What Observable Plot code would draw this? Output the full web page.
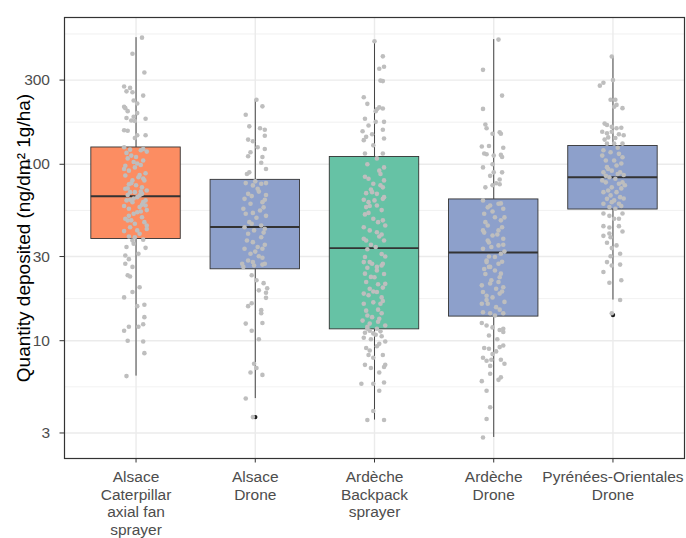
<!DOCTYPE html>
<html>
<head>
<meta charset="utf-8">
<script src="https://cdn.jsdelivr.net/npm/d3@7"></script>
<script src="https://cdn.jsdelivr.net/npm/@observablehq/plot@0.6"></script>
<style>
  html, body { margin: 0; padding: 0; background: #ffffff; }
  #chart { width: 686px; height: 538px; overflow: hidden; }
</style>
</head>
<body>
<div id="chart"></div>
<script>
// ---- Data ----
const categories = [
  "Alsace\nCaterpillar\naxial fan\nsprayer",
  "Alsace\nDrone",
  "Ardèche\nBackpack\nsprayer",
  "Ardèche\nDrone",
  "Pyrénées-Orientales\nDrone"
];
const boxColors = ["#FC8D62", "#8DA0CB", "#66C2A5", "#8DA0CB", "#8DA0CB"];
const q1 = [37.7, 25.4, 11.6, 13.7, 55.4];
const medians = [65.9, 44.1, 33.5, 31.6, 84.5];
const q3 = [124.5, 81.6, 110, 63.2, 127];
const whiskerLow = [6.3, 4.7, 3.55, 2.83, 17.0];
const whiskerHigh = [522, 232, 498, 509, 408];
const outlierGroup = [2, 5];
const outlierValues = [3.69, 14.0];

const yTicks = [3, 10, 30, 100, 300];
const yMinor = [5.477, 17.32, 54.77, 173.2, 547.7];
const yTitle = "Quantity deposited (ng/dm² 1g/ha)";

const g1Values = [522,423,331,276,271,256,259,245,230,221,212,208,200,195,186,183,181,176,177,156,155,146,146,141,125,
121,112,120,122,94,92,103,101,105,84.5,86.4,81,74,81,72.6,69.5,69.5,65.1,66.6,62.4,62.4,61,61,56,57.2,58.4,52.4,53.5,49.1,48.1,50.1,47,44,42.2,40.4,41.8,38.6,37.4,35.5,33.6,34,31.1,37,
118,108,99,96,89,78,76,71,67,64,59,55,51,46,43,39,116,87,73,58,
98,83,77,68,63,54,48,45,110,70,
30.4,29.0,26.2,27.3,23.5,23.1,17.6,18.9,20.1,15.7,16.0,13.6,11.4,12.0,12.0,12.4,10.0,9.9,8.5,6.3];
const g1Jitter = [0.05,-0.03,0.07,-0.10,-0.05,-0.03,-0.08,0.06,-0.02,0.01,-0.10,-0.09,-0.07,0.01,-0.02,-0.08,0.08,-0.01,-0.04,-0.10,-0.07,0.01,0.08,-0.01,-0.10,
-0.05,-0.04,0.04,0.06,-0.10,-0.06,-0.02,0.01,0.06,0.02,-0.09,-0.03,0.05,0.07,-0.09,-0.05,-0.01,0.01,0.03,0.08,-0.08,-0.03,0.06,-0.06,0.03,0.08,-0.02,0.01,-0.09,-0.04,0.05,0.07,-0.05,0.01,0.03,-0.10,-0.01,0.06,-0.02,0.08,-0.08,0.02,-0.03,
0.09,-0.07,0.04,-0.01,0.08,-0.04,0.00,0.09,-0.07,-0.02,0.05,0.09,-0.06,-0.01,0.09,-0.06,-0.08,0.03,-0.07,-0.10,
-0.09,0.06,-0.06,0.05,-0.05,0.04,-0.07,0.09,0.00,0.04,
-0.09,-0.06,-0.03,-0.09,-0.07,-0.05,-0.10,-0.03,0.03,0.01,0.07,0.07,-0.10,-0.06,0.02,0.06,-0.07,0.06,0.07,-0.08];

const g2Values = [232,213,191,164,160,157,145,135,138,125,122,117,111,110,102,94,90,88,
78.2,75.9,77.5,78.2,72.6,68,63,63.7,56,59.7,54.7,52.4,49.8,47,43.1,44,42.2,38.6,40.4,36.2,34,33.2,33.2,31.1,30.1,28.5,27.3,26.7,26.2,
80,70,66,61,57,51,46,41,37,35,32,29.5,53,67,45,
27.3,27.9,27.0,23.5,21.2,18.7,22.0,19.3,19.8,17.5,15.7,16.3,14.9,14.3,12.5,12.6,11.4,10.2,7.4,6.6,7.0,6.4,4.7,3.69];
const g2Jitter = [0.01,0.06,-0.08,-0.05,0.04,0.08,0.08,-0.02,-0.06,0.02,0.08,-0.04,-0.06,0.06,0.05,0.09,-0.05,-0.07,
-0.08,-0.02,0.05,0.09,0.02,-0.06,0.08,-0.09,-0.10,-0.04,0.04,-0.08,0.01,-0.05,0.08,-0.09,-0.01,0.05,-0.06,-0.02,0.02,-0.09,0.06,-0.04,0.03,-0.06,0.08,-0.01,-0.10,
0.00,0.03,-0.03,0.06,0.07,0.09,-0.03,0.07,-0.07,0.08,0.00,0.06,-0.02,0.09,0.05,
-0.11,-0.02,0.06,-0.03,0.07,0.09,0.01,0.03,0.10,0.09,-0.06,-0.03,0.05,0.05,-0.08,0.06,-0.03,0.03,-0.01,-0.04,0.01,0.06,-0.08,-0.02];

const g3Values = [498,409,348,357,296,298,240,220,210,205,207,200,181,166,174,174,154,143,148,157,140,137,128,115,115,108,
92,82.8,81,77.5,74,68.6,68,69.5,63,61,62.4,63.7,57.2,58.4,65.1,49.1,48.1,42.2,41.2,37.8,37,37,34,29.8,27.9,27.3,26.2,
27.9,27.3,26.7,25.0,25.9,23.9,22.9,21.5,20.9,19.7,18.5,18.1,18.9,17.6,16.5,16.2,16.2,13.9,13.6,14.3,13.0,12.5,12.8,12.0,11.7,
100,88,72,55,52,45,39,35,31,23,20,15,44,58,
96,85,76,53,47,40,33,30,24,21,19,16.8,14.8,13.3,12.2,
11.7,11.0,11.3,9.9,10.4,9.3,8.8,8.3,8.3,8.0,7.3,7.3,7.0,7.1,6.6,5.7,5.7,5.8,5.2,4.0,3.55,3.55,10.8,10.2,11.1,9.6,10.6,11.4,9.1];
const g3Jitter = [0.00,0.07,0.04,0.08,0.07,0.05,-0.09,-0.06,0.04,0.02,0.07,0.01,-0.08,-0.05,0.01,0.08,-0.10,-0.07,-0.02,0.07,0.08,-0.09,-0.01,-0.08,0.07,0.02,
0.04,-0.05,0.08,-0.01,0.07,-0.07,0.02,-0.02,-0.09,-0.05,0.00,0.07,-0.07,0.02,0.08,-0.01,0.07,-0.04,0.02,-0.09,-0.07,0.08,0.01,-0.08,-0.04,0.07,0.02,
-0.09,-0.02,0.06,0.02,-0.06,0.08,0.00,-0.07,0.03,-0.04,-0.09,-0.05,0.02,0.06,-0.01,-0.09,0.05,-0.06,-0.02,0.06,-0.10,-0.04,0.03,-0.06,0.02,
-0.06,0.05,-0.03,0.06,-0.08,0.09,0.04,-0.03,0.06,-0.03,0.07,0.03,-0.09,-0.04,
0.08,-0.08,0.05,-0.05,0.03,0.06,-0.06,0.09,-0.08,0.09,-0.01,0.07,-0.07,0.04,0.09,
-0.06,-0.01,0.05,0.09,-0.09,0.02,-0.04,0.07,-0.05,-0.01,-0.08,0.09,-0.03,0.08,0.04,-0.11,-0.01,0.08,0.04,-0.01,-0.06,0.08,0.01,-0.03,-0.08,0.04,0.06,-0.04,-0.07];

const g4Values = [509,343,245,206,168,160,149,152,149,126,127,115,114,124,113,110,112,100,96,90,86,90,82,78,74,76,77,
62.4,58.4,59.7,56,52.4,50.1,48.1,45,42.2,42.2,39.5,37.8,37,34.7,34,33.2,31.1,29.8,28.5,27.3,26.2,
27.9,26.2,23.9,25.0,22.9,20.6,21.1,19.7,20.1,18.9,17.6,18.5,16.2,16.2,15.5,14.3,14.3,14.5,
60,54,47,44,40,36,32,30,24,22,19,17,15,
57,50,41,35,28,25.5,21.5,18,16.6,13.9,
12.6,12.2,11.9,11.5,11.7,11.2,10.7,9.1,9.0,9.2,9.4,8.7,8.0,7.7,7.8,7.8,7.2,7.4,6.5,5.9,5.2,6.0,6.2,4.2,3.6,2.83,10.2,8.4];
const g4Jitter = [0.04,-0.09,0.07,-0.09,-0.07,-0.06,-0.01,0.05,0.06,-0.10,-0.04,-0.08,-0.06,0.08,0.06,0.07,0.00,-0.01,-0.09,0.00,-0.03,0.07,0.05,0.02,-0.07,-0.01,0.05,
-0.09,-0.03,0.04,0.08,-0.08,0.01,0.06,-0.05,0.04,-0.09,-0.01,0.08,-0.05,0.04,-0.02,-0.09,0.06,0.01,-0.06,0.04,-0.03,
-0.06,-0.04,-0.07,0.01,0.05,-0.10,-0.03,0.02,0.08,-0.09,-0.01,0.05,-0.05,-0.10,0.02,0.08,-0.03,-0.09,
0.06,-0.01,-0.07,0.07,0.03,-0.04,0.09,-0.04,0.06,-0.02,0.07,-0.06,0.05,
-0.05,0.09,-0.08,0.08,0.07,-0.08,0.04,-0.06,0.09,0.01,
-0.10,-0.06,-0.01,0.05,0.08,0.08,-0.04,-0.08,-0.04,0.05,0.08,0.02,-0.09,-0.06,-0.02,0.06,-0.03,0.09,-0.03,-0.10,-0.06,0.04,0.06,-0.03,-0.06,-0.09,0.03,-0.01];

const g5Values = [408,290,279,300,232,232,217,208,212,170,167,163,160,161,153,150,153,148,146,142,141,138,131,131,131,
120,117,114.6,109.7,105,105,96.3,98.4,90,92,90,84.5,82.8,79,77.5,79,74,69.5,69.5,66.6,65.1,63.7,62.4,59.7,59.7,57.2,56,
124,112,101,94,87,81,73,71,64,61,58,88,86,76,
52.6,51.0,49.1,49.1,52.6,44.6,43.8,44.6,41.6,40.5,39.3,38.6,35.9,34.7,33.5,31.1,30.1,27.9,26.7,27.0,24.5,22.0,21.3,17.0,14.3];
const g5Jitter = [-0.01,-0.08,-0.11,0.00,0.02,-0.02,0.03,0.08,0.01,-0.07,-0.05,-0.01,0.03,0.07,-0.09,-0.05,-0.01,0.05,0.09,-0.04,0.02,-0.07,0.08,0.01,-0.05,
-0.08,-0.02,0.05,0.08,-0.06,0.01,-0.05,0.03,-0.08,-0.01,0.06,-0.03,0.02,0.08,0.05,-0.06,-0.01,-0.08,0.03,-0.02,0.06,-0.05,0.01,0.05,-0.08,-0.03,0.02,
0.04,-0.09,0.07,-0.04,0.09,-0.09,0.07,-0.04,0.09,-0.01,0.07,0.04,-0.06,0.10,
-0.08,-0.03,0.01,0.05,0.08,-0.08,-0.03,0.05,0.08,-0.03,-0.08,-0.02,-0.05,0.03,-0.01,0.06,-0.02,-0.05,-0.01,0.06,-0.08,0.07,-0.03,0.06,-0.01];

// ---- Build tables ----
const groupValues = [g1Values, g2Values, g3Values, g4Values, g5Values];
const groupJitter = [g1Jitter, g2Jitter, g3Jitter, g4Jitter, g5Jitter];
const points = [];
groupValues.forEach((vals, gi) => {
  const jit = groupJitter[gi];
  const n = Math.min(vals.length, jit.length);
  for (let k = 0; k < n; k++) points.push({g: gi + 1, j: jit[k], v: vals[k]});
});
const stats = categories.map((c, i) => ({
  g: i + 1, q1: q1[i], med: medians[i], q3: q3[i],
  lo: whiskerLow[i], hi: whiskerHigh[i], color: boxColors[i]
}));
const outliers = outlierGroup.map((g, i) => ({g, v: outlierValues[i]}));
const halfWidth = 0.375;

const chart = Plot.plot({
  width: 686,
  height: 538,
  marginLeft: 64,
  marginRight: 2,
  marginTop: 17,
  marginBottom: 80,
  style: {fontFamily: "'Liberation Sans', Arial, sans-serif", background: "#ffffff", overflow: "hidden"},
  x: {type: "linear", domain: [0.4, 5.6], axis: null},
  y: {type: "log", domain: [2.15, 679], axis: null},
  color: {type: "identity"},
  marks: [
    Plot.ruleY(yMinor, {stroke: "#ebebeb", strokeWidth: 0.7}),
    Plot.ruleY(yTicks, {stroke: "#ebebeb", strokeWidth: 1.4}),
    Plot.ruleX(stats, {x: "g", stroke: "#ebebeb", strokeWidth: 1.4}),
    Plot.ruleX(stats, {x: "g", y1: "lo", y2: "q1", stroke: "#333333", strokeWidth: 0.9}),
    Plot.ruleX(stats, {x: "g", y1: "q3", y2: "hi", stroke: "#333333", strokeWidth: 0.9}),
    Plot.rect(stats, {x1: d => d.g - halfWidth, x2: d => d.g + halfWidth, y1: "q1", y2: "q3",
      fill: "color", stroke: "#333333", strokeWidth: 0.9}),
    Plot.ruleY(stats, {x1: d => d.g - halfWidth, x2: d => d.g + halfWidth, y: "med",
      stroke: "#333333", strokeWidth: 1.9}),
    Plot.dot(outliers, {x: "g", y: "v", r: 2.2, fill: "#1a1a1a", stroke: "none"}),
    Plot.dot(points, {x: d => d.g + d.j, y: "v", r: 2.3, fill: "#bebebe", stroke: "none"}),
    Plot.frame({stroke: "#333333", strokeWidth: 1.2}),
    Plot.axisY({ticks: yTicks, tickFormat: d => String(d), tickSize: 4.5, tickPadding: 10,
      fontSize: 15.5, stroke: "#333333", fill: "#4d4d4d", label: null}),
    Plot.axisX({ticks: [1, 2, 3, 4, 5], tickFormat: d => categories[d - 1], tickSize: 4.5, tickPadding: 6.5,
      fontSize: 15.5, lineHeight: 1.14, stroke: "#333333", fill: "#4d4d4d", label: null}),
    Plot.text([yTitle], {frameAnchor: "left", dx: -41, rotate: -90, fontSize: 19,
      fill: "#000000", textAnchor: "middle", lineAnchor: "middle"})
  ]
});
document.getElementById("chart").appendChild(chart);
</script>
</body>
</html>
